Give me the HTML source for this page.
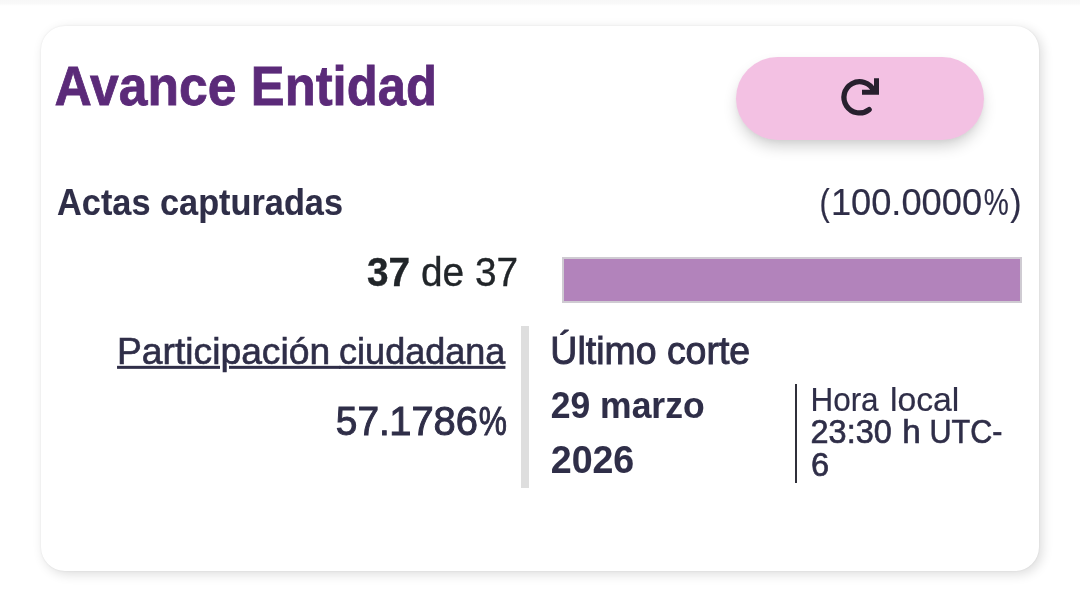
<!DOCTYPE html>
<html lang="es">
<head>
<meta charset="utf-8">
<title>Avance Entidad</title>
<style>
  html, body { margin: 0; padding: 0; }
  body {
    width: 1080px; height: 596px; overflow: hidden; position: relative;
    background: #ffffff;
    font-family: "Liberation Sans", sans-serif;
    color: #2f2e48;
  }
  .topshade {
    position: absolute; left: 0; top: 0; width: 1080px; height: 6px;
    background: linear-gradient(to bottom, #f7f7f7 0%, #f9f9f9 60%, #ffffff 100%);
  }
  .card {
    position: absolute; left: 41px; top: 26px; width: 998px; height: 545px;
    background: #ffffff; border-radius: 24px;
    box-shadow: 3px 3px 12px rgba(0,0,0,0.14), 0 0 2px rgba(0,0,0,0.08);
  }
  .g { margin: 0; padding: 0; font-size: inherit; font-weight: 400; }
  .t {
    position: absolute; left: 0; top: 0; white-space: pre; line-height: 1; margin: 0;
    transform-origin: 0 0; font-weight: 400; display: block;
  }
  .t b { font-weight: 700; }
  .b { font-weight: 700; }
  .k { color: #212529; }
  h1 .t { color: #5b2a79; font-weight: 700; }
  .btn {
    position: absolute; left: 736px; top: 57px; width: 248px; height: 83px;
    border-radius: 42px; background: #f3c1e3; border: 0; padding: 0;
    box-shadow: 0 8px 15px -2px rgba(0,0,0,0.19), 0 2px 4px rgba(0,0,0,0.03);
  }
  .btn svg { position: absolute; left: 0; top: 0; width: 248px; height: 83px; }
  .bar {
    position: absolute; left: 562px; top: 257px; width: 456px; height: 42px;
    border: 2px solid #cfcbd2; background: #b283bb;
  }
  .vsep { position: absolute; left: 521.3px; top: 325.7px; width: 7.3px; height: 162.1px; background: #dedede; }
  .vline { position: absolute; left: 795px; top: 384px; width: 2px; height: 99px; background: #30303a; }
  .u { text-decoration: underline; text-decoration-thickness: 2.7px; text-underline-offset: 1.5px; }
</style>
</head>
<body>
  <div class="topshade"></div>
  <section class="card"></section>

  <h1 class="g"><span class="t " id="title1" style="font-size:55.9px; transform:translate(54.58px,57.77px) scaleX(0.9240); -webkit-text-stroke:0.8px currentColor;">Avance </span><span class="t " id="title2" style="font-size:55.9px; transform:translate(250.82px,57.77px) scaleX(0.9083); -webkit-text-stroke:0.8px currentColor;">Entidad</span></h1>

  <button class="btn" aria-label="Actualizar">
    <svg viewBox="736 57 248 83" aria-hidden="true" fill="none" stroke="#27202e"><path stroke-width="5.3" stroke-linecap="round" d="M873.69 90.76A15.6 15.6 0 1 0 869.15 109.64"/><path stroke-width="5" stroke-linejoin="miter" d="M876.5 78.3V92.3H862"/></svg>
  </button>

  <div class="g"><span class="t b" id="actas" style="font-size:37.1px; transform:translate(57.07px,184.49px) scaleX(0.9250); -webkit-text-stroke:0.1px currentColor;">Actas capturadas</span></div>
  <div class="g"><span class="t " id="pcta" style="font-size:37.85px; transform:translate(819.53px,184.06px) scaleX(0.8154); -webkit-text-stroke:0.2px currentColor;">(</span><span class="t " id="pctb" style="font-size:37.85px; transform:translate(830.92px,184.06px) scaleX(0.9577); -webkit-text-stroke:0.2px currentColor;">100.0000</span><span class="t " id="pctc" style="font-size:37.85px; transform:translate(983.76px,184.06px) scaleX(0.7441); -webkit-text-stroke:0.2px currentColor;">%</span><span class="t " id="pctd" style="font-size:37.85px; transform:translate(1010.28px,184.06px) scaleX(0.8952); -webkit-text-stroke:0.2px currentColor;">)</span></div>

  <div class="g"><span class="t k" id="count" style="font-size:39.9px; transform:translate(367.02px,253.33px) scaleX(0.9728); -webkit-text-stroke:0.35px currentColor;"><b>37</b> de 37</span></div>
  <div class="bar"></div>

  <div class="g"><span class="t u" id="part1" style="font-size:37.8px; transform:translate(117.04px,332.84px) scaleX(0.9849); -webkit-text-stroke:0.65px currentColor;">Participación </span><span class="t u" id="part2" style="font-size:37.8px; transform:translate(339.07px,332.84px) scaleX(0.9535); -webkit-text-stroke:0.65px currentColor;">ciudadana</span></div>
  <div class="g"><span class="t " id="partva" style="font-size:40.5px; transform:translate(335.85px,401.22px) scaleX(0.9577); -webkit-text-stroke:1.0px currentColor;">57.</span><span class="t " id="partvb" style="font-size:40.5px; transform:translate(389.19px,401.22px) scaleX(0.9855); -webkit-text-stroke:1.0px currentColor;">1786</span><span class="t " id="partvc" style="font-size:40.5px; transform:translate(478.73px,401.22px) scaleX(0.7826); -webkit-text-stroke:1.0px currentColor;">%</span></div>

  <div class="vsep"></div>

  <div class="g"><span class="t " id="ult" style="font-size:39.1px; transform:translate(550.36px,330.65px) scaleX(0.9584); -webkit-text-stroke:0.95px currentColor;">Último corte</span></div>
  <div class="g"><span class="t b" id="fecha1" style="font-size:37.5px; transform:translate(550.82px,386.51px) scaleX(0.9456); -webkit-text-stroke:0.1px currentColor;">29 marzo</span></div>
  <div class="g"><span class="t b" id="fecha2" style="font-size:37.95px; transform:translate(550.76px,441.73px) scaleX(0.9890); -webkit-text-stroke:0.1px currentColor;">2026</span></div>

  <div class="vline"></div>

  <div class="g"><span class="t " id="hora1a" style="font-size:33.3px; transform:translate(810.39px,383.04px) scaleX(0.9456); -webkit-text-stroke:0.2px currentColor;">Hora </span><span class="t " id="hora1b" style="font-size:33.3px; transform:translate(889.97px,382.86px) scaleX(1.0133); -webkit-text-stroke:0.2px currentColor;">local</span></div>
  <div class="g"><span class="t " id="hora2a" style="font-size:33.8px; transform:translate(810.55px,415.37px) scaleX(0.9600); -webkit-text-stroke:0.65px currentColor;">23:30 </span><span class="t " id="hora2b" style="font-size:33.8px; transform:translate(902.27px,415.37px) scaleX(0.9870); -webkit-text-stroke:0.65px currentColor;">h </span><span class="t " id="hora2c" style="font-size:33.8px; transform:translate(929.47px,415.37px) scaleX(0.9036); -webkit-text-stroke:0.65px currentColor;">UTC-</span></div>
  <div class="g"><span class="t " id="hora3" style="font-size:33.8px; transform:translate(811.04px,448.47px) scaleX(0.9644); -webkit-text-stroke:0.65px currentColor;">6</span></div>
</body>
</html>
